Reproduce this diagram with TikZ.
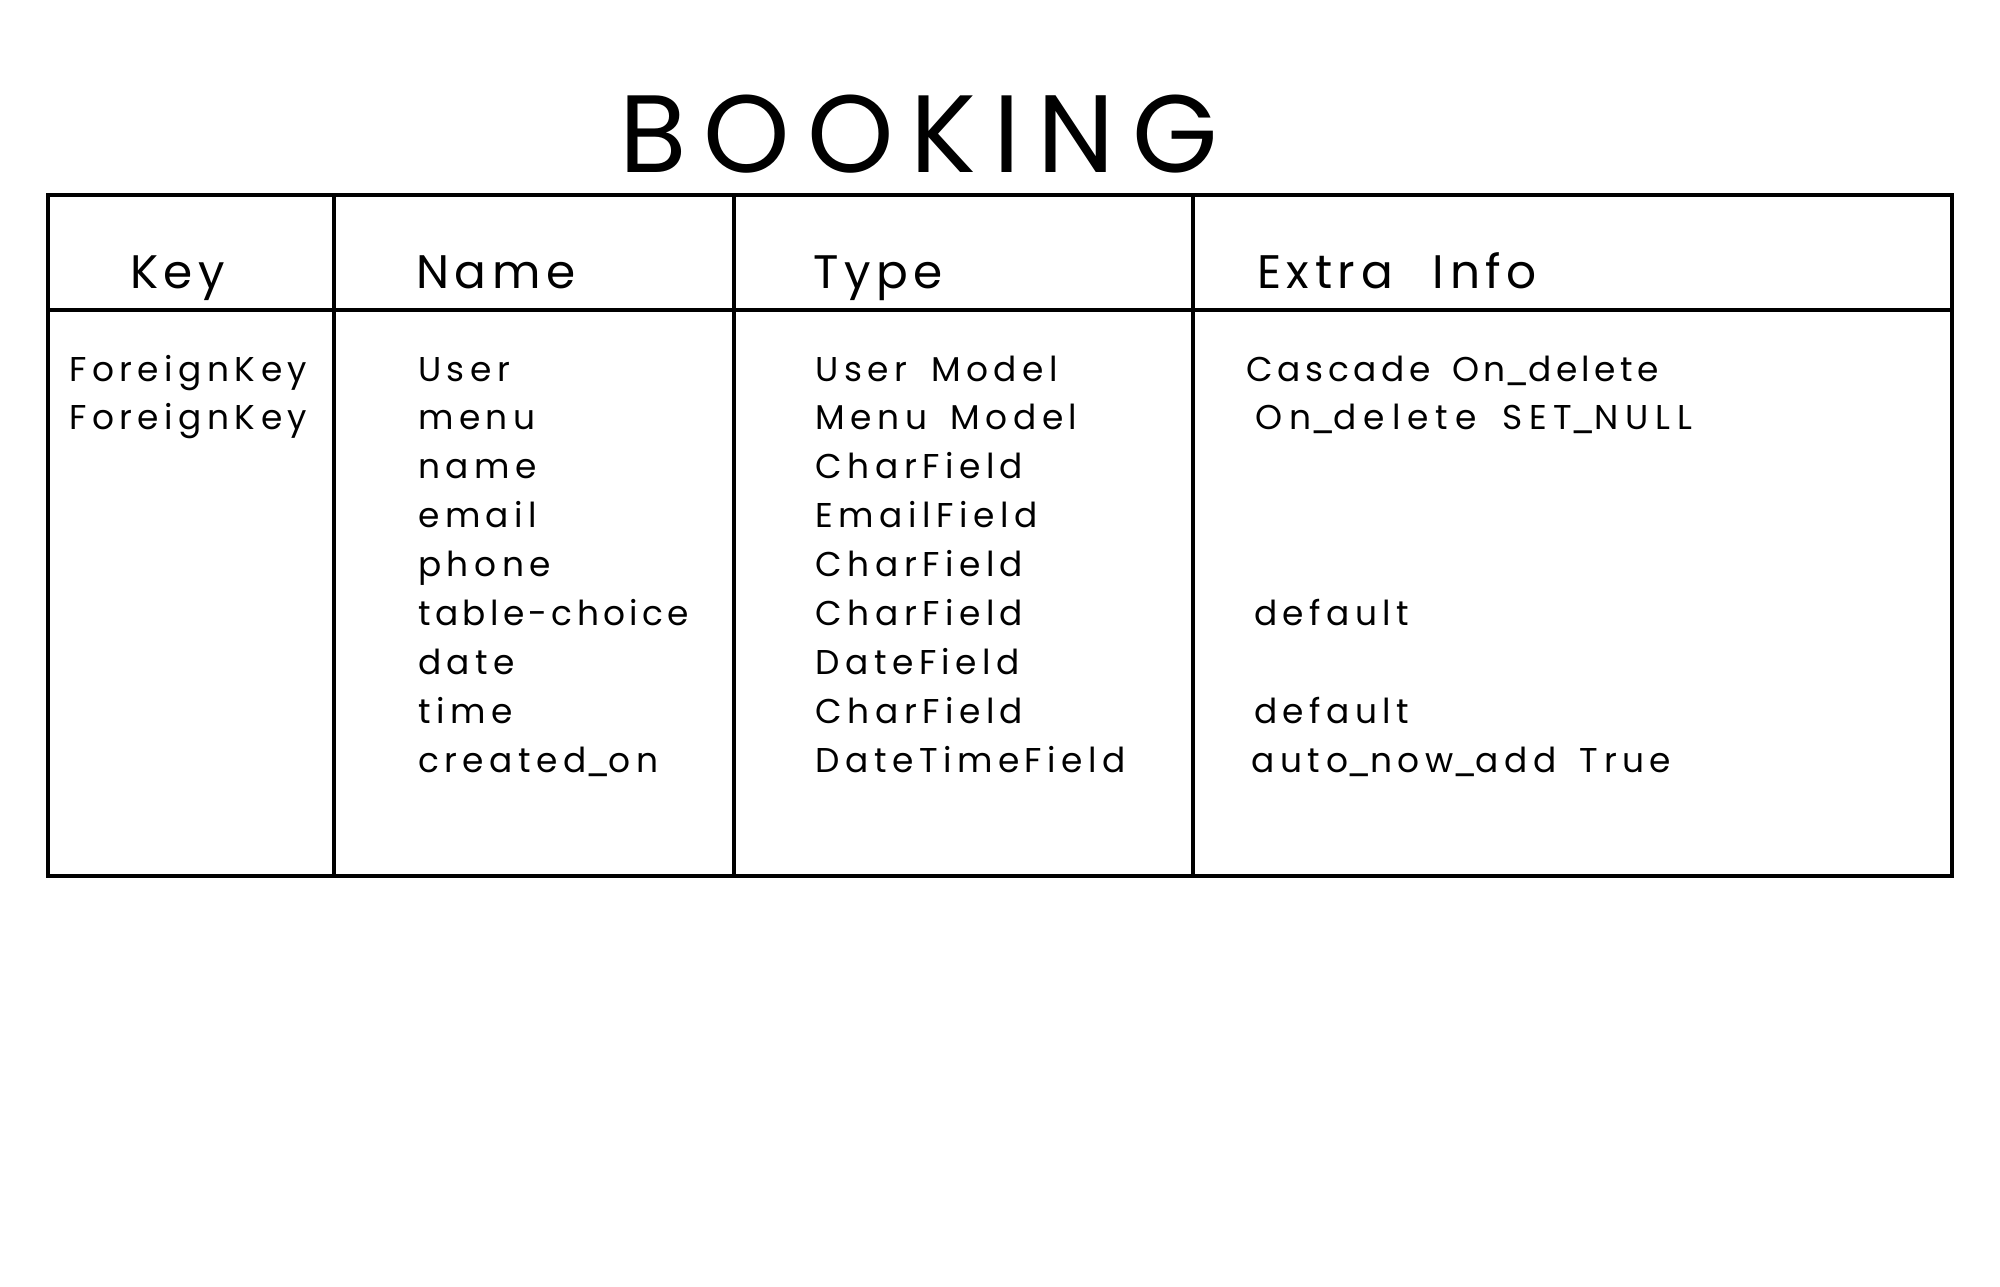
\documentclass[tikz,border=0pt]{standalone}
\usepackage{fontspec}
\newfontfamily\titlefont[LetterSpace=15.5]{Poppins}
\newfontfamily\headfont[LetterSpace=12,WordSpace=2.2]{Poppins}
\newfontfamily\bodyfont[LetterSpace=16,WordSpace=1.6]{Poppins}
\newcommand\uscore{{\kern-1.5pt\_\kern-1.5pt}}
\begin{document}
\begin{tikzpicture}[x=1pt,y=-1pt,
  grid/.style={line width=4pt, line cap=rect},
  titletxt/.style={anchor=base west, inner sep=0pt, font=\titlefont\fontsize{110}{120}\selectfont},
  headtxt/.style={anchor=base west, inner sep=0pt, font=\headfont\fontsize{47}{56}\selectfont},
  celltxt/.style={anchor=base west, inner sep=0pt, font=\bodyfont\fontsize{34.4}{40}\selectfont}]
\useasboundingbox[fill=white] (0,0) rectangle (2000,1286);
% table frame
\coordinate (tl) at (47.5,195);
\coordinate (br) at (1952,876);
\draw[grid] (tl) rectangle (br);
\coordinate (hl) at (47.5,310);
\coordinate (hr) at (1952,310);
\draw[grid] (hl) -- (hr);
\foreach \x/\n in {334/a,734/b,1193/c}{
  \coordinate (\n t) at (\x,195);
  \coordinate (\n b) at (\x,876);
  \draw[grid] (\n t) -- (\n b);
}
% title
\node[titletxt] (title) at (619,172) {BOOKING};
% headers
\node[headtxt] (hkey) at (130,288) {Key};
\node[headtxt] (hname) at (416,288) {Name};
\node[headtxt] (htype) at (813,288) {Type};
\node[headtxt] (hextra) at (1257,288) {Extra Info};
% key column
\node[celltxt] (k1) at (69,381) {ForeignKey};
\node[celltxt] (k2) at (69,429.9) {ForeignKey};
% name column
\foreach \t [count=\i from 0] in {User,menu,name,email,phone,{\addfontfeature{LetterSpace=12.6}table-choice},date,time,created\uscore on}{
  \node[celltxt] (n\i) at (418,381+48.9*\i) {\t};
}
% type column
\foreach \t [count=\i from 0] in {User Model,Menu Model,CharField,EmailField,CharField,CharField,DateField,CharField,DateTimeField}{
  \node[celltxt] (t\i) at (815.5,381+48.9*\i) {\t};
}
% extra column
\node[celltxt] (e0) at (1246.5,381) {\addfontfeature{LetterSpace=13.2}Cascade On\uscore delete};
\node[celltxt] (e1) at (1255.5,429.9) {\addfontfeature{LetterSpace=20}On\uscore delete SET\uscore NULL};
\node[celltxt] (e5) at (1254,625.5) {default};
\node[celltxt] (e7) at (1254,723.3) {default};
\node[celltxt] (e8) at (1251.5,772.2) {auto\uscore now\uscore add True};
\end{tikzpicture}
\end{document}
